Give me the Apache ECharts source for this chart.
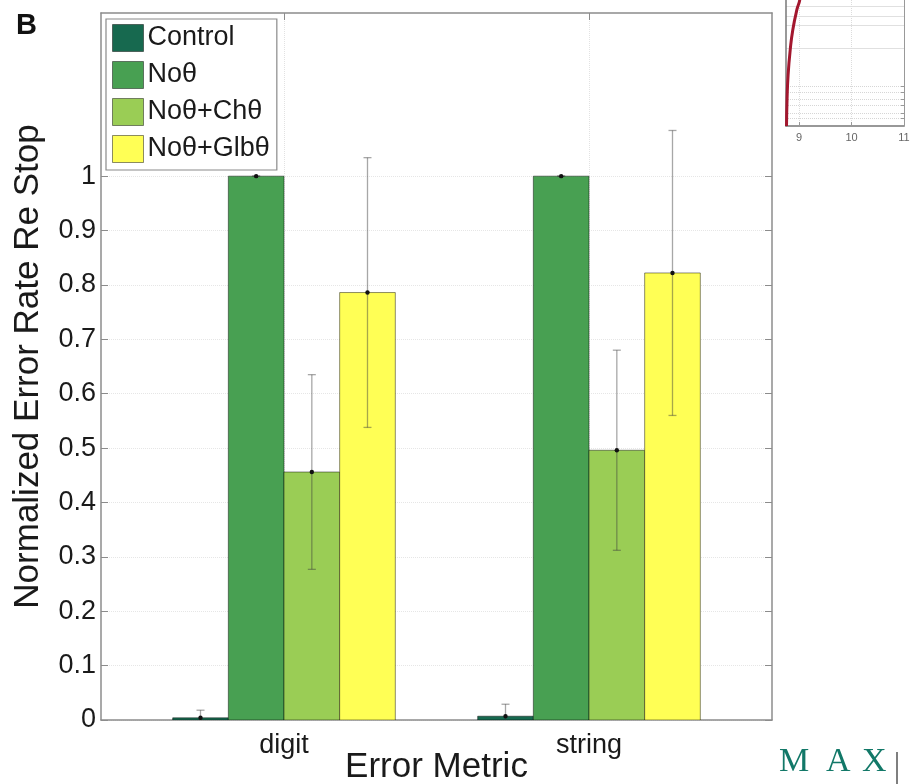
<!DOCTYPE html>
<html>
<head>
<meta charset="utf-8">
<script src="https://cdn.jsdelivr.net/npm/echarts@6/dist/echarts.min.js"></script>
<style>
  html, body { margin: 0; padding: 0; background: #ffffff; }
  #chart { width: 910px; height: 784px; }
</style>
</head>
<body>
<div id="chart"></div>
<script>
// ---- data ----
const categories = ['digit', 'string'];
const groupNames = ['Control', 'Noθ', 'Noθ+Chθ', 'Noθ+Glbθ'];

const controlMean = [0.004, 0.007];
const controlErr = [0.014, 0.022];
const noThetaMean = [1.0, 1.0];
const noThetaErr = [0, 0];
const chThetaMean = [0.456, 0.496];
const chThetaErr = [0.179, 0.184];
const glbThetaMean = [0.786, 0.822];
const glbThetaErr = [0.248, 0.262];

const yTicks = [0, 0.1, 0.2, 0.3, 0.4, 0.5, 0.6, 0.7, 0.8, 0.9, 1];
const xTicks = [1, 2];

// small neighbouring panel (partially visible)
const insetX = [8.76, 8.77, 8.79, 8.83, 8.88, 8.96, 9.01, 9.06];
const insetY = [0, 0.18, 0.35, 0.52, 0.66, 0.80, 0.86, 1.0];
const insetXTicks = [9, 10, 11];
const insetMajorLevels = [0.53, 0.69, 0.75, 0.82];
const insetMinorLevels = [0.05, 0.09, 0.14, 0.18, 0.23, 0.27];

// ---- styling ----
const colors = ['#17694f', '#48a052', '#9acd55', '#ffff55'];
const BAR_W = 0.1825;          // bar width in x-axis units
const axisGray = '#8c8c8c';
const FONT = 'Liberation Sans, Arial, Helvetica, sans-serif';

function barSeries(name, idx, means, errs) {
  return {
    type: 'custom',
    name: name,
    xAxisIndex: 0,
    yAxisIndex: 0,
    clip: true,
    itemStyle: { color: colors[idx] },
    encode: { x: 0, y: 1 },
    data: means.map((m, i) => [i + 1, m, errs[i]]),
    renderItem: function (params, api) {
      const cat = api.value(0);
      const mean = api.value(1);
      const err = api.value(2);
      const cx = cat + (idx - 1.5) * BAR_W;
      const tl = api.coord([cx - BAR_W / 2, mean]);
      const br = api.coord([cx + BAR_W / 2, 0]);
      const c = api.coord([cx, mean]);
      const hi = api.coord([cx, mean + err]);
      const lo = api.coord([cx, mean - err]);
      const capHalf = 4;
      const errStyle = { stroke: 'rgba(60,60,60,0.45)', lineWidth: 1.3 };
      return {
        type: 'group',
        children: [
          {
            type: 'rect',
            shape: { x: tl[0], y: tl[1], width: br[0] - tl[0], height: br[1] - tl[1] },
            style: { fill: colors[idx], stroke: 'rgba(0,0,0,0.45)', lineWidth: 1 }
          },
          {
            type: 'line',
            shape: { x1: c[0], y1: lo[1], x2: c[0], y2: hi[1] },
            style: errStyle
          },
          {
            type: 'line',
            shape: { x1: c[0] - capHalf, y1: hi[1], x2: c[0] + capHalf, y2: hi[1] },
            style: errStyle
          },
          {
            type: 'line',
            shape: { x1: c[0] - capHalf, y1: lo[1], x2: c[0] + capHalf, y2: lo[1] },
            style: errStyle
          },
          {
            type: 'circle',
            shape: { cx: c[0], cy: c[1], r: 2.2 },
            style: { fill: '#111' }
          }
        ]
      };
    }
  };
}

const chart = echarts.init(document.getElementById('chart'), null, { renderer: 'canvas' });

const option = {
  backgroundColor: '#ffffff',
  animation: false,
  textStyle: { fontFamily: FONT },
  grid: [
    { left: 101, top: 13, width: 671, height: 707, containLabel: false, outerBoundsMode: 'none' },
    { left: 786, top: -20, width: 118, height: 146, containLabel: false, outerBoundsMode: 'none' }
  ],
  legend: {
    data: groupNames,
    orient: 'vertical',
    left: 106,
    top: 19,
    padding: [5, 7, 7, 6],
    itemWidth: 31,
    itemHeight: 27,
    itemGap: 9,
    icon: 'rect',
    backgroundColor: '#ffffff',
    borderColor: '#8a8a8a',
    borderWidth: 1.2,
    itemStyle: { borderColor: 'rgba(0,0,0,0.45)', borderWidth: 1 },
    textStyle: { fontSize: 27, color: '#1a1a1a', fontFamily: FONT, padding: [0, 0, 0, -1] }
  },
  xAxis: [
    {
      type: 'value', gridIndex: 0, position: 'bottom',
      min: 0.4, max: 2.6,
      name: 'Error Metric', nameLocation: 'middle', nameGap: 30, nameMoveOverlap: false,
      nameTextStyle: { fontSize: 35, color: '#1a1a1a', fontFamily: FONT },
      axisLine: { show: true, onZero: false, lineStyle: { color: axisGray, width: 1.5 } },
      axisTick: { show: true, inside: true, length: 7, customValues: xTicks, lineStyle: { color: axisGray } },
      axisLabel: {
        customValues: xTicks, fontSize: 27, color: '#1a1a1a', margin: 12, fontFamily: FONT,
        formatter: v => categories[Math.round(v) - 1]
      },
      splitLine: { show: true, lineStyle: { color: '#e2e2e2', type: 'dotted', width: 1 } }
    },
    {
      type: 'value', gridIndex: 0, position: 'top',
      min: 0.4, max: 2.6,
      axisLine: { show: true, onZero: false, lineStyle: { color: axisGray, width: 1.5 } },
      axisTick: { show: true, inside: true, length: 7, customValues: xTicks, lineStyle: { color: axisGray } },
      axisLabel: { show: false },
      splitLine: { show: false }
    },
    {
      type: 'value', gridIndex: 1, position: 'bottom',
      min: 8.75, max: 11,
      axisLine: { show: true, onZero: false, lineStyle: { color: '#777', width: 1.5 } },
      axisTick: { show: true, inside: true, length: 4, customValues: insetXTicks, lineStyle: { color: '#999' } },
      axisLabel: { customValues: insetXTicks, fontSize: 11, color: '#666', margin: 6, fontFamily: FONT },
      splitLine: { show: true, lineStyle: { color: '#dcdcdc', type: 'dotted' } }
    }
  ],
  yAxis: [
    {
      type: 'value', gridIndex: 0, position: 'left',
      min: 0, max: 1.3,
      name: 'Normalized Error Rate Re Stop', nameLocation: 'middle', nameGap: 55,
      nameTextStyle: { fontSize: 35, color: '#1a1a1a', fontFamily: FONT },
      axisLine: { show: true, onZero: false, lineStyle: { color: axisGray, width: 1.5 } },
      axisTick: { show: true, inside: true, length: 7, customValues: yTicks, lineStyle: { color: axisGray } },
      axisLabel: {
        customValues: yTicks, fontSize: 27, color: '#1a1a1a', margin: 5, fontFamily: FONT,
        formatter: v => String(Math.round(v * 10) / 10)
      },
      splitLine: { show: true, lineStyle: { color: '#e6e6e6', type: 'dotted', width: 1 } }
    },
    {
      type: 'value', gridIndex: 0, position: 'right',
      min: 0, max: 1.3,
      axisLine: { show: true, onZero: false, lineStyle: { color: axisGray, width: 1.5 } },
      axisTick: { show: true, inside: true, length: 7, customValues: yTicks, lineStyle: { color: axisGray } },
      axisLabel: { show: false },
      splitLine: { show: false }
    },
    {
      type: 'value', gridIndex: 1, position: 'left',
      min: 0, max: 1,
      axisLine: { show: true, onZero: false, lineStyle: { color: '#777', width: 1.5 } },
      axisTick: { show: false, customValues: insetMajorLevels },
      axisLabel: { show: false },
      splitLine: { show: true, lineStyle: { color: '#e0e0e0', width: 1 } }
    },
    {
      type: 'value', gridIndex: 1, position: 'right',
      min: 0, max: 1,
      axisLine: { show: true, onZero: false, lineStyle: { color: '#999', width: 1 } },
      axisTick: { show: true, inside: true, length: 3, customValues: insetMinorLevels, lineStyle: { color: '#999' } },
      axisLabel: { show: false },
      splitLine: { show: true, lineStyle: { color: '#d6d6d6', type: 'dotted', width: 1 } }
    }
  ],
  series: [
    barSeries(groupNames[0], 0, controlMean, controlErr),
    barSeries(groupNames[1], 1, noThetaMean, noThetaErr),
    barSeries(groupNames[2], 2, chThetaMean, chThetaErr),
    barSeries(groupNames[3], 3, glbThetaMean, glbThetaErr),
    {
      type: 'line',
      name: 'inset',
      xAxisIndex: 2,
      yAxisIndex: 2,
      smooth: true,
      showSymbol: false,
      lineStyle: { color: '#a3172e', width: 3 },
      data: insetX.map((x, i) => [x, insetY[i]])
    }
  ],
  graphic: [
    {
      type: 'text', left: 16, top: 11,
      style: { text: 'B', font: 'bold 29px ' + FONT, fill: '#111' }
    },
    {
      type: 'text', left: 779, top: 745,
      style: { text: 'M', font: '34px Liberation Serif, serif', fill: '#127868' }
    },
    {
      type: 'text', left: 826, top: 745,
      style: { text: 'A', font: '34px Liberation Serif, serif', fill: '#127868' }
    },
    {
      type: 'text', left: 862, top: 745,
      style: { text: 'X', font: '34px Liberation Serif, serif', fill: '#127868' }
    },
    {
      type: 'line',
      shape: { x1: 897, y1: 752, x2: 897, y2: 784 },
      style: { stroke: '#555', lineWidth: 1.5 }
    }
  ]
};

chart.setOption(option);
</script>
</body>
</html>
